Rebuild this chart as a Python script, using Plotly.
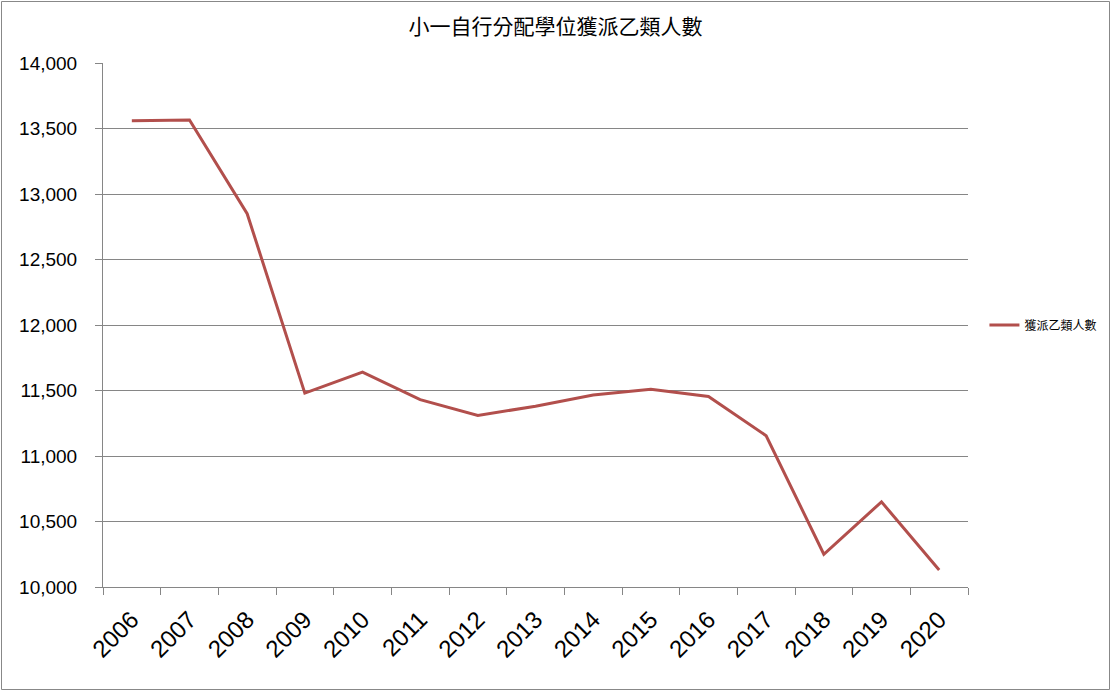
import plotly.graph_objects as go

years = ["2006", "2007", "2008", "2009", "2010", "2011", "2012", "2013",
         "2014", "2015", "2016", "2017", "2018", "2019", "2020"]
values = [13560, 13565, 12850, 11480, 11640, 11430, 11310, 11380,
          11465, 11510, 11455, 11155, 10250, 10650, 10130]
series_name = "獲派乙類人數"
title = "小一自行分配學位獲派乙類人數"

grid = "#868686"
W, H = 865, 524
fig = go.Figure()
fig.add_trace(go.Scatter(x=years, y=values, mode="lines", name=series_name,
                         line=dict(color="#B24F4C", width=3)))

fig.update_layout(
    width=1111, height=691,
    margin=dict(l=103, r=143, t=63, b=104, autoexpand=False),
    paper_bgcolor="white", plot_bgcolor="white",
    title=dict(text=title, x=0.5, xanchor="center", y=0.962, yanchor="middle",
               font=dict(family="Noto Sans CJK TC", size=21, color="black")),
    showlegend=True,
    legend=dict(x=1.019, y=0.5, xanchor="left", yanchor="middle",
                font=dict(family="Noto Sans CJK TC", size=12, color="black"),
                bgcolor="rgba(0,0,0,0)"),
    shapes=[dict(type="rect", xref="paper", yref="paper",
                 x0=(1.5 - 103) / W, x1=(1109.5 - 103) / W,
                 y0=(587 - 689.5) / H, y1=(587 - 1.5) / H,
                 line=dict(color="#888888", width=1))],
)
fig.update_xaxes(type="category", range=[-0.5, 14.5], automargin=False,
                 tickson="boundaries", ticks="outside",
                 ticklen=7, tickcolor=grid, showline=True, linecolor=grid,
                 linewidth=1, showgrid=False, tickangle=-45,
                 ticklabelstandoff=8,
                 tickfont=dict(family="Liberation Sans Narrow, Liberation Sans, sans-serif",
                               size=24, color="black"))
fig.update_yaxes(range=[10000, 14000.6], dtick=500, tick0=10000, tickformat=",",
                 automargin=False,
                 ticks="outside", ticklen=7, tickcolor=grid,
                 ticklabelstandoff=14,
                 showline=True, linecolor=grid, linewidth=1,
                 showgrid=True, gridcolor=grid, gridwidth=1, zeroline=False,
                 tickfont=dict(family="Liberation Sans Narrow, Liberation Sans, sans-serif",
                               size=19, color="black"))
fig.write_html("out.html", config={"displayModeBar": False},
               post_script="document.body.style.margin='0';document.body.style.padding='0';")
